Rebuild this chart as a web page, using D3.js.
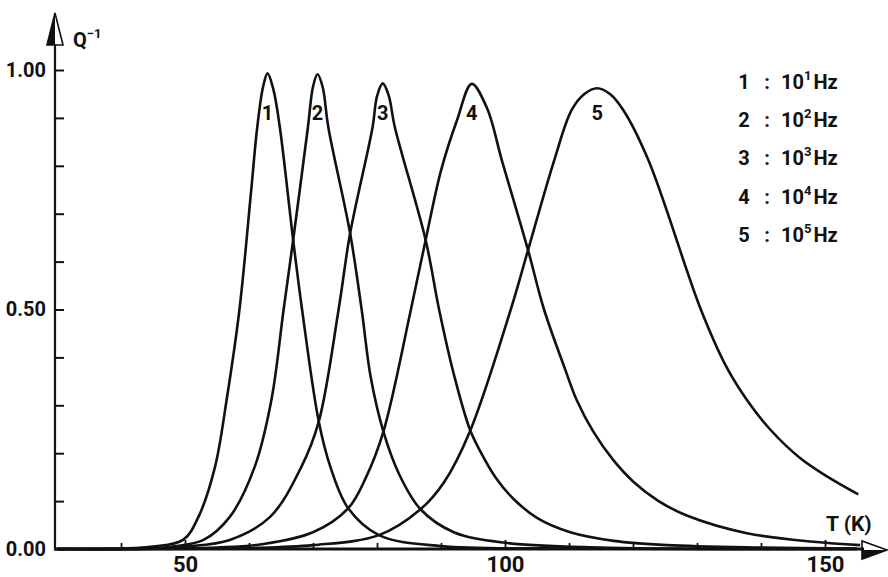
<!DOCTYPE html>
<html>
<head>
<meta charset="utf-8">
<script src="https://cdn.jsdelivr.net/npm/d3@7"></script>
<style>
  html, body { margin: 0; padding: 0; background: #fff; }
  svg { display: block; }
  text { font-family: "Roboto", "Liberation Sans", sans-serif; font-weight: 700; fill: #111; }
</style>
</head>
<body>
<svg id="chart" width="888" height="577"></svg>
<script>
// ---- data ----
const curve1T = [30, 40, 45, 49.7, 52.1, 54.7, 56.5, 58.5, 60.3, 61.3, 62.2, 62.9, 63.8, 64.8, 66.9, 68.3, 70.9, 72.7, 75.5, 80.3, 90, 110, 155];
const curve1Q = [0, 0.001, 0.005, 0.019, 0.067, 0.172, 0.311, 0.499, 0.743, 0.882, 0.965, 0.993, 0.96, 0.882, 0.645, 0.499, 0.266, 0.172, 0.085, 0.029, 0.006, 0.001, 0];

const curve2T = [30, 45, 48, 52.9, 57.0, 60.9, 63.5, 65.4, 66.9, 69.2, 70.0, 70.7, 71.5, 72.4, 75.8, 77.6, 79.0, 81.0, 83.5, 86.8, 92, 100, 115, 155];
const curve2Q = [0, 0.001, 0.005, 0.019, 0.067, 0.172, 0.311, 0.499, 0.645, 0.88, 0.965, 0.991, 0.965, 0.88, 0.659, 0.5, 0.36, 0.245, 0.155, 0.083, 0.035, 0.013, 0.003, 0];

const curve3T = [30, 45, 50, 57.0, 63.3, 68.2, 70.9, 74.0, 75.8, 79.3, 80.0, 80.9, 81.8, 82.8, 87.6, 89.7, 92.0, 94.5, 96.1, 98.5, 101.3, 105, 110.2, 117, 125.3, 140, 155];
const curve3Q = [0, 0.001, 0.005, 0.019, 0.067, 0.172, 0.266, 0.5, 0.659, 0.88, 0.945, 0.972, 0.948, 0.88, 0.645, 0.5, 0.365, 0.25, 0.205, 0.15, 0.105, 0.065, 0.035, 0.017, 0.008, 0.003, 0.001];

const curve4T = [30, 50, 55, 62, 70, 75.5, 78.3, 81.0, 85.3, 87.6, 90.0, 92.5, 94.8, 97.2, 99.5, 103.6, 106.1, 109.4, 111.2, 113.8, 116.9, 120.1, 124, 128.4, 137.8, 148.2, 155.5];
const curve4Q = [0, 0.001, 0.003, 0.01, 0.035, 0.085, 0.15, 0.245, 0.5, 0.645, 0.79, 0.895, 0.971, 0.92, 0.812, 0.624, 0.5, 0.375, 0.311, 0.245, 0.186, 0.14, 0.1, 0.07, 0.033, 0.015, 0.008];

const curve5T = [30, 60, 70, 80.3, 86.8, 90.5, 94.5, 100.9, 103.6, 107.7, 110.4, 112.4, 114.4, 116.4, 118.5, 122.4, 130.6, 134.6, 137.8, 141.4, 146.1, 150.5, 155.2];
const curve5Q = [0, 0.002, 0.008, 0.029, 0.083, 0.14, 0.245, 0.5, 0.624, 0.812, 0.916, 0.95, 0.962, 0.95, 0.916, 0.812, 0.5, 0.38, 0.311, 0.25, 0.19, 0.15, 0.114];

const curveLabels = ["1", "2", "3", "4", "5"];
const labelT = [62.9, 70.7, 80.9, 94.8, 114.4];
const legendExp = ["1", "2", "3", "4", "5"];

const yTicks = [0, 0.1, 0.2, 0.3, 0.4, 0.5, 0.6, 0.7, 0.8, 0.9, 1.0];
const yTickLabels = [0, 0.5, 1.0];
const xTicks = [40, 50, 60, 70, 80, 90, 100, 110, 120, 130, 140, 150];
const xTickLabels = [50, 100, 150];

// ---- drawing ----
const svg = d3.select("#chart");
const x = d3.scaleLinear().domain([50, 150]).range([185, 825]);
const y = d3.scaleLinear().domain([0, 1]).range([549, 70]);
const axisX0 = 55; // y-axis position
const xAxisY = y(0);
const FONT = "Roboto, 'Liberation Sans', sans-serif";

// y axis
const yAxis = d3.axisLeft(y)
  .tickValues(yTicks)
  .tickSizeInner(-9).tickSizeOuter(0).tickPadding(9)
  .tickFormat(d => yTickLabels.some(v => Math.abs(v - d) < 1e-9) ? d3.format(".2f")(d) : "");
const gy = svg.append("g").attr("transform", `translate(${axisX0},0)`).call(yAxis);
gy.select(".domain").remove();
gy.selectAll(".tick line").attr("stroke", "#111").attr("stroke-width", 2);
gy.selectAll(".tick text").attr("font-size", 20).attr("font-family", FONT).attr("font-weight", 700).attr("fill", "#111");

// x axis
const xAxis = d3.axisBottom(x)
  .tickValues(xTicks)
  .tickSizeInner(-6).tickSizeOuter(0).tickPadding(7)
  .tickFormat(d => xTickLabels.includes(d) ? String(d) : "");
const gx = svg.append("g").attr("transform", `translate(0,${xAxisY})`).call(xAxis);
gx.select(".domain").remove();
gx.selectAll(".tick line").attr("stroke", "#111").attr("stroke-width", 1.8)
  .attr("y2", d => xTickLabels.includes(d) ? -9 : -6);
gx.selectAll(".tick text").attr("font-size", 22).attr("font-family", FONT).attr("font-weight", 700).attr("fill", "#111");

// axis lines
svg.append("line").attr("x1", axisX0).attr("x2", axisX0).attr("y1", xAxisY + 1.5).attr("y2", 44)
  .attr("stroke", "#111").attr("stroke-width", 2.2);
svg.append("line").attr("x1", axisX0).attr("x2", 864).attr("y1", xAxisY).attr("y2", xAxisY)
  .attr("stroke", "#111").attr("stroke-width", 3);

// y arrow (half filled)
svg.append("path").attr("d", `M${axisX0},13 L${axisX0 - 8},45 L${axisX0},45 Z`).attr("fill", "#111");
svg.append("path").attr("d", `M${axisX0},13 L${axisX0 - 8},45 L${axisX0 + 8},45 Z`)
  .attr("fill", "none").attr("stroke", "#111").attr("stroke-width", 1.6).attr("stroke-linejoin", "miter");
// x arrow (half filled)
svg.append("path").attr("d", `M887,${xAxisY + 1} L862,${xAxisY + 1} L862,${xAxisY + 10} Z`).attr("fill", "#111");
svg.append("path").attr("d", `M887,${xAxisY + 1} L862,${xAxisY - 8} L862,${xAxisY + 10} Z`)
  .attr("fill", "none").attr("stroke", "#111").attr("stroke-width", 1.6);

// axis titles
const qLabel = svg.append("text").attr("x", 73).attr("y", 47).attr("font-size", 20);
qLabel.append("tspan").text("Q");
qLabel.append("tspan").attr("font-size", 13).attr("dy", -9).text("−1");

svg.append("text").attr("x", 826).attr("y", 531).attr("font-size", 21).text("T (K)");

// curves
const curves = [
  [curve1T, curve1Q], [curve2T, curve2Q], [curve3T, curve3Q], [curve4T, curve4Q], [curve5T, curve5Q]
];
const line = d3.line()
  .x(d => x(d[0]))
  .y(d => Math.min(y(d[1]), xAxisY))
  .curve(d3.curveCatmullRom.alpha(0.5));

svg.append("g").selectAll("path")
  .data(curves.map(([T, Q]) => T.map((t, i) => [t, Q[i]])))
  .join("path")
  .attr("d", line)
  .attr("fill", "none")
  .attr("stroke", "#111")
  .attr("stroke-width", 2.6)
  .attr("stroke-linejoin", "round");

// curve number labels
svg.append("g").selectAll("text")
  .data(curveLabels)
  .join("text")
  .attr("x", (d, i) => x(labelT[i]))
  .attr("y", 120)
  .attr("text-anchor", "middle")
  .attr("font-size", 20)
  .text(d => d);

// legend
const legend = svg.append("g");
const rowY = [89, 127, 165, 204, 242];
curveLabels.forEach((lab, i) => {
  legend.append("text").attr("x", 744).attr("y", rowY[i]).attr("text-anchor", "middle").attr("font-size", 20).text(lab);
  legend.append("text").attr("x", 767).attr("y", rowY[i]).attr("text-anchor", "middle").attr("font-size", 20).text(":");
  const t = legend.append("text").attr("x", 781).attr("y", rowY[i]).attr("font-size", 20);
  t.append("tspan").text("10");
  t.append("tspan").attr("font-size", 13).attr("dy", -9).text(legendExp[i]);
  t.append("tspan").attr("dy", 9).attr("dx", 2).text("Hz");
});
</script>
</body>
</html>
